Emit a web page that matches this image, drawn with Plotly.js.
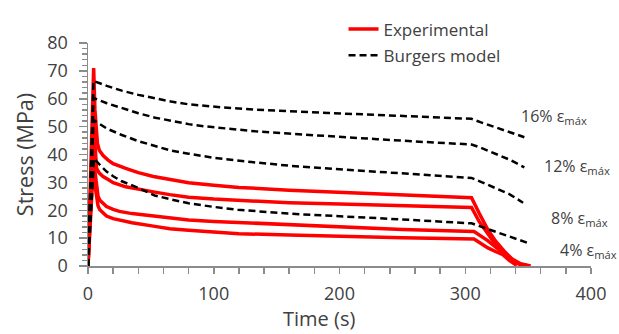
<!DOCTYPE html>
<html>
<head>
<meta charset="utf-8">
<script src="https://cdn.plot.ly/plotly-3.0.1.min.js"></script>
<style>html,body{margin:0;padding:0;background:#fff;}#chart{width:619px;height:334px;}</style>
</head>
<body>
<div id="chart"></div>
<script>
// Experimental curves (time s, stress MPa)
const expT1 = [0, 4.5, 5.5, 6.5, 7.5, 9, 12, 16, 20, 30, 40, 52, 65, 80, 100, 120, 160, 200, 250, 305, 311, 317.6, 324, 330.8, 337, 344, 352];
const expS1 = [0, 71, 56, 50, 44, 41.5, 39.6, 38, 36.7, 35, 33.5, 32.1, 31, 29.9, 29, 28.2, 27.2, 26.4, 25.4, 24.5, 19, 13.3, 9, 5.4, 2.6, 0.8, 0];
const expT2 = [0, 4.5, 5.5, 6.8, 9, 12, 16, 20, 30, 40, 52, 65, 80, 100, 120, 160, 200, 250, 305, 311, 318, 324, 331, 337, 343, 350];
const expS2 = [0, 58, 44, 35, 33.3, 32.1, 31, 29.9, 28.4, 27.5, 26.6, 25.6, 24.7, 24, 23.5, 22.7, 22.2, 21.6, 21, 16, 11.5, 7.8, 4.5, 2.2, 0.6, 0];
const expT3 = [0, 4.5, 5.5, 6.8, 8, 9.4, 12, 14.7, 20, 25, 35, 52, 65, 80, 100, 120, 160, 200, 250, 307, 312, 317.6, 325, 333.5, 340, 346.7];
const expS3 = [0, 45, 34, 28.2, 25, 23.6, 22.3, 21.3, 20.3, 19.6, 18.8, 17.9, 17.1, 16.5, 16, 15.6, 14.7, 13.9, 13.1, 12.4, 11, 9.2, 6.5, 3.7, 1.5, 0];
const expT4 = [0, 4.5, 5.5, 6.8, 8, 9.4, 12, 14.7, 20, 25, 35, 52, 65, 80, 100, 120, 160, 200, 250, 307, 313, 318, 324, 329.5, 335, 341];
const expS4 = [0, 38, 29, 23.6, 21.5, 20.2, 19, 17.9, 17, 16.5, 15.5, 14.3, 13.4, 12.8, 12.2, 11.6, 11.1, 10.6, 10.1, 9.7, 8, 6.5, 5.2, 4.2, 2, 0.2];

// Burgers model curves
const burT16 = [0, 4.4, 15, 26.9, 40, 53.5, 66, 80, 93, 106.5, 133, 159.5, 191, 230, 267, 305, 312, 320, 330, 340, 347];
const burS16 = [0, 66.4, 64.6, 62.9, 61.4, 60.1, 59, 58, 57.4, 56.9, 56.1, 55.5, 54.9, 54.2, 53.6, 52.8, 51.6, 50.3, 48.8, 47.3, 46.2];
const burT12 = [0, 4.4, 15, 26.9, 40, 53.5, 66, 80, 93, 106.5, 133, 159.5, 191, 230, 267, 305, 312, 320, 335, 347];
const burS12 = [0, 60.3, 58.4, 56.6, 54.8, 53.2, 52, 50.9, 50.1, 49.5, 48.3, 47.5, 46.5, 45.5, 44.5, 43.6, 42.5, 41, 38.2, 35.4];
const burT8 = [0, 4.4, 15, 26.9, 40, 53.5, 66, 80, 100, 130, 159.5, 200, 250, 305, 312, 320, 335, 346];
const burS8 = [0, 52.4, 49.3, 47, 44.8, 43, 41.4, 40.3, 38.8, 37.3, 36, 34.7, 33.2, 31.6, 30.3, 28.8, 25.8, 22.7];
const burT4 = [0, 4.8, 10, 15, 20, 26.9, 40, 53, 66, 80, 100, 119, 159, 200, 250, 305, 312, 320, 335, 349];
const burS4 = [0, 38.6, 36, 33.8, 32.2, 30.4, 28, 25.3, 23.9, 22.5, 21.2, 20.2, 18.8, 17.9, 16.7, 15.3, 14.2, 13, 10.7, 8.4];

const curveLabels = ['16% ε<sub>máx</sub>', '12% ε<sub>máx</sub>', '8% ε<sub>máx</sub>', '4% ε<sub>máx</sub>'];
const xTicks = [0, 100, 200, 300, 400];
const yTicks = [0, 10, 20, 30, 40, 50, 60, 70, 80];

const FONT = '"Open Sans", "Segoe UI", Arial, sans-serif';
const TXT = '#404040';
const AX = '#8c8c8c';

const expSets = [[expT1, expS1], [expT2, expS2], [expT3, expS3], [expT4, expS4]];
const burSets = [[burT16, burS16], [burT12, burS12], [burT8, burS8], [burT4, burS4]];

const traces = [];
expSets.forEach((d, i) => {
  traces.push({
    x: d[0], y: d[1], mode: 'lines', type: 'scatter',
    name: 'Experimental', legendgroup: 'exp', showlegend: i === 0,
    line: {color: '#ff0000', width: 3.5},
    hoverinfo: 'skip'
  });
});
burSets.forEach((d, i) => {
  traces.push({
    x: d[0], y: d[1], mode: 'lines', type: 'scatter',
    name: 'Burgers model', legendgroup: 'bur', showlegend: i === 0,
    line: {color: '#000000', width: 2.5, dash: '7px,4px'},
    hoverinfo: 'skip'
  });
});

const labelPos = [[0.857, 0.671], [0.902, 0.444], [0.917, 0.214], [0.934, 0.068]];
const annotations = curveLabels.map((t, i) => ({
  text: t, xref: 'paper', yref: 'paper', x: labelPos[i][0], y: labelPos[i][1],
  xanchor: 'left', yanchor: 'middle', showarrow: false,
  font: {family: FONT, size: 16, color: TXT}
}));
annotations.push({
  text: 'Time (s)', xref: 'paper', yref: 'paper', x: (319 - 88) / 503, y: -0.237,
  xanchor: 'center', yanchor: 'middle', showarrow: false,
  font: {family: FONT, size: 20, color: TXT}
});

const axisCommon = {
  showgrid: false, zeroline: false, showline: true,
  linecolor: AX, linewidth: 1.5,
  ticks: 'outside', tickcolor: AX, tickwidth: 1.5,
  tickfont: {family: FONT, size: 18, color: TXT},
  fixedrange: true
};

const layout = {
  width: 619, height: 334,
  margin: {l: 88, r: 28, t: 32, b: 68, pad: 0},
  paper_bgcolor: '#ffffff', plot_bgcolor: '#ffffff',
  font: {family: FONT, color: TXT},
  xaxis: Object.assign({}, axisCommon, {
    range: [0, 400], tickvals: xTicks, ticktext: xTicks.map(String), ticklen: 6,
    ticklabelstandoff: 5,
    minor: {dtick: 20, tick0: 0, ticks: 'outside', ticklen: 6, tickcolor: AX, tickwidth: 1.5, showgrid: false}
  }),
  yaxis: Object.assign({}, axisCommon, {
    range: [0, 80], tickvals: yTicks, ticktext: yTicks.map(String), ticklen: 8,
    ticklabelstandoff: 7,
    minor: {dtick: 2, tick0: 0, ticks: 'outside', ticklen: 5, tickcolor: AX, tickwidth: 1.5, showgrid: false},
    title: {text: 'Stress (MPa)', font: {family: FONT, size: 21.5, color: TXT}, standoff: 8}
  }),
  showlegend: true,
  legend: {
    x: 0.508, y: 1.141, xanchor: 'left', yanchor: 'top',
    bgcolor: 'rgba(0,0,0,0)', borderwidth: 0,
    font: {family: FONT, size: 17, color: TXT},
    traceorder: 'grouped', tracegroupgap: 1
  },
  annotations: annotations
};

Plotly.newPlot('chart', traces, layout, {displayModeBar: false, staticPlot: true});
</script>
</body>
</html>
